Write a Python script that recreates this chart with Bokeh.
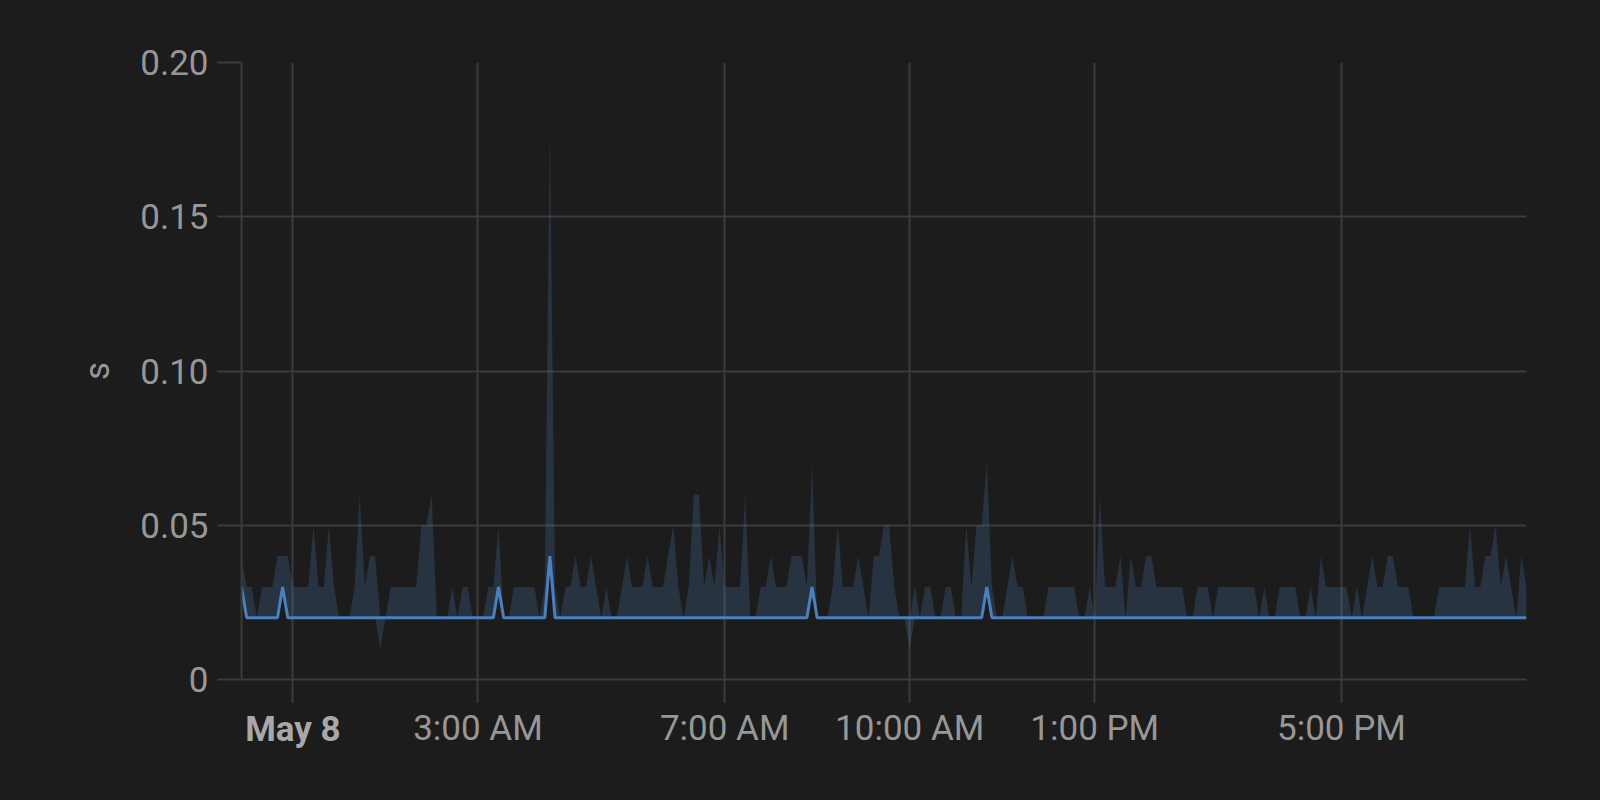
import pandas as pd
from bokeh.plotting import figure
from bokeh.models import FixedTicker, Label, Range1d, ColumnDataSource
from bokeh.embed import file_html
from bokeh.resources import INLINE

# ---------------- data ----------------
start = "2023-05-07 23:10"
end = "2023-05-08 20:00"
step = "5min"

# upper edge of the band (max), seconds
s_max = [
    0.04, 0.03, 0.03, 0.02, 0.03, 0.03, 0.03, 0.04, 0.04, 0.04,
    0.03, 0.03, 0.03, 0.03, 0.05, 0.03, 0.03, 0.05, 0.03, 0.02,
    0.02, 0.02, 0.03, 0.06, 0.03, 0.04, 0.04, 0.02, 0.02, 0.03,
    0.03, 0.03, 0.03, 0.03, 0.03, 0.05, 0.05, 0.06, 0.02, 0.02,
    0.02, 0.03, 0.02, 0.03, 0.03, 0.02, 0.02, 0.02, 0.03, 0.03,
    0.05, 0.02, 0.02, 0.03, 0.03, 0.03, 0.03, 0.03, 0.02, 0.03,
    0.18, 0.03, 0.02, 0.03, 0.03, 0.04, 0.03, 0.03, 0.04, 0.03,
    0.02, 0.03, 0.02, 0.02, 0.03, 0.04, 0.03, 0.03, 0.03, 0.04,
    0.03, 0.03, 0.03, 0.04, 0.05, 0.03, 0.02, 0.03, 0.06, 0.06,
    0.03, 0.04, 0.03, 0.05, 0.03, 0.03, 0.03, 0.03, 0.06, 0.02,
    0.02, 0.03, 0.03, 0.04, 0.03, 0.03, 0.03, 0.04, 0.04, 0.04,
    0.03, 0.07, 0.02, 0.02, 0.02, 0.03, 0.05, 0.03, 0.03, 0.03,
    0.04, 0.03, 0.02, 0.04, 0.04, 0.05, 0.05, 0.03, 0.02, 0.02,
    0.02, 0.03, 0.02, 0.03, 0.03, 0.02, 0.02, 0.03, 0.03, 0.02,
    0.02, 0.05, 0.03, 0.05, 0.05, 0.07, 0.03, 0.02, 0.02, 0.03,
    0.04, 0.03, 0.03, 0.02, 0.02, 0.02, 0.02, 0.03, 0.03, 0.03,
    0.03, 0.03, 0.03, 0.02, 0.02, 0.03, 0.02, 0.06, 0.03, 0.03,
    0.03, 0.04, 0.02, 0.04, 0.03, 0.03, 0.04, 0.04, 0.03, 0.03,
    0.03, 0.03, 0.03, 0.03, 0.02, 0.02, 0.03, 0.03, 0.03, 0.02,
    0.03, 0.03, 0.03, 0.03, 0.03, 0.03, 0.03, 0.03, 0.02, 0.03,
    0.02, 0.02, 0.03, 0.03, 0.03, 0.03, 0.02, 0.02, 0.03, 0.02,
    0.04, 0.03, 0.03, 0.03, 0.03, 0.03, 0.02, 0.03, 0.02, 0.03,
    0.04, 0.03, 0.03, 0.04, 0.04, 0.03, 0.03, 0.03, 0.02, 0.02,
    0.02, 0.02, 0.02, 0.03, 0.03, 0.03, 0.03, 0.03, 0.03, 0.05,
    0.03, 0.03, 0.04, 0.04, 0.05, 0.03, 0.04, 0.03, 0.02, 0.04,
    0.03,
]

# main line (seconds)
s_line = [
    0.03, 0.02, 0.02, 0.02, 0.02, 0.02, 0.02, 0.02, 0.03, 0.02,
    0.02, 0.02, 0.02, 0.02, 0.02, 0.02, 0.02, 0.02, 0.02, 0.02,
    0.02, 0.02, 0.02, 0.02, 0.02, 0.02, 0.02, 0.02, 0.02, 0.02,
    0.02, 0.02, 0.02, 0.02, 0.02, 0.02, 0.02, 0.02, 0.02, 0.02,
    0.02, 0.02, 0.02, 0.02, 0.02, 0.02, 0.02, 0.02, 0.02, 0.02,
    0.03, 0.02, 0.02, 0.02, 0.02, 0.02, 0.02, 0.02, 0.02, 0.02,
    0.04, 0.02, 0.02, 0.02, 0.02, 0.02, 0.02, 0.02, 0.02, 0.02,
    0.02, 0.02, 0.02, 0.02, 0.02, 0.02, 0.02, 0.02, 0.02, 0.02,
    0.02, 0.02, 0.02, 0.02, 0.02, 0.02, 0.02, 0.02, 0.02, 0.02,
    0.02, 0.02, 0.02, 0.02, 0.02, 0.02, 0.02, 0.02, 0.02, 0.02,
    0.02, 0.02, 0.02, 0.02, 0.02, 0.02, 0.02, 0.02, 0.02, 0.02,
    0.02, 0.03, 0.02, 0.02, 0.02, 0.02, 0.02, 0.02, 0.02, 0.02,
    0.02, 0.02, 0.02, 0.02, 0.02, 0.02, 0.02, 0.02, 0.02, 0.02,
    0.02, 0.02, 0.02, 0.02, 0.02, 0.02, 0.02, 0.02, 0.02, 0.02,
    0.02, 0.02, 0.02, 0.02, 0.02, 0.03, 0.02, 0.02, 0.02, 0.02,
    0.02, 0.02, 0.02, 0.02, 0.02, 0.02, 0.02, 0.02, 0.02, 0.02,
    0.02, 0.02, 0.02, 0.02, 0.02, 0.02, 0.02, 0.02, 0.02, 0.02,
    0.02, 0.02, 0.02, 0.02, 0.02, 0.02, 0.02, 0.02, 0.02, 0.02,
    0.02, 0.02, 0.02, 0.02, 0.02, 0.02, 0.02, 0.02, 0.02, 0.02,
    0.02, 0.02, 0.02, 0.02, 0.02, 0.02, 0.02, 0.02, 0.02, 0.02,
    0.02, 0.02, 0.02, 0.02, 0.02, 0.02, 0.02, 0.02, 0.02, 0.02,
    0.02, 0.02, 0.02, 0.02, 0.02, 0.02, 0.02, 0.02, 0.02, 0.02,
    0.02, 0.02, 0.02, 0.02, 0.02, 0.02, 0.02, 0.02, 0.02, 0.02,
    0.02, 0.02, 0.02, 0.02, 0.02, 0.02, 0.02, 0.02, 0.02, 0.02,
    0.02, 0.02, 0.02, 0.02, 0.02, 0.02, 0.02, 0.02, 0.02, 0.02,
    0.02,
]

# lower edge of the band (min), seconds
s_min = list(s_line)
s_min[27] = 0.01
s_min[130] = 0.01

x_tick_times = ["2023-05-08 00:00", "2023-05-08 03:00", "2023-05-08 07:00",
                "2023-05-08 10:00", "2023-05-08 13:00", "2023-05-08 17:00"]
x_tick_labels = ["May 8", "3:00 AM", "7:00 AM", "10:00 AM", "1:00 PM", "5:00 PM"]
y_ticks = [0.0, 0.05, 0.10, 0.15, 0.20]
y_tick_labels = ["0", "0.05", "0.10", "0.15", "0.20"]
y_unit = "s"

# ---------------- styling ----------------
BG = "#1c1c1c"
GRID = "#3b3b3b"
TEXT = "#979797"
TEXT_BOLD = "#a8a8a8"
LINE = "#4a80bd"
FILL = "#5089ca"
FONT = "Roboto"
FS = "35px"

times = pd.date_range(start, periods=len(s_max), freq=step)
src = ColumnDataSource(dict(t=times, lo=s_min, hi=s_max, mid=s_line))

tick_ms = [pd.Timestamp(t).value / 1e6 for t in x_tick_times]

p = figure(width=1600, height=800, x_axis_type="datetime",
           x_range=Range1d(pd.Timestamp(start), pd.Timestamp(end)),
           y_range=Range1d(0, 0.2),
           output_backend="svg", toolbar_location=None,
           background_fill_color=BG, border_fill_color=BG,
           min_border_left=241, min_border_right=74,
           min_border_top=62, min_border_bottom=121)
p.outline_line_color = None

p.varea(x="t", y1="lo", y2="hi", source=src, fill_color=FILL, fill_alpha=0.21)
p.line(x="t", y="mid", source=src, line_color=LINE, line_width=3)

# x axis
p.xaxis.ticker = FixedTicker(ticks=tick_ms)
p.xgrid.ticker = FixedTicker(ticks=tick_ms)
overrides = {ms: lab for ms, lab in zip(tick_ms, x_tick_labels)}
overrides[tick_ms[0]] = ""
p.xaxis.major_label_overrides = overrides
p.xaxis.axis_line_color = GRID
p.xaxis.axis_line_width = 2
p.xaxis.major_tick_line_color = GRID
p.xaxis.major_tick_line_width = 2
p.xaxis.major_tick_out = 23
p.xaxis.major_tick_in = 0
p.xaxis.minor_tick_line_color = None
p.xaxis.major_label_text_font = FONT
p.xaxis.major_label_text_font_size = FS
p.xaxis.major_label_text_color = TEXT
p.xaxis.major_label_standoff = 5

# y axis
p.yaxis.ticker = FixedTicker(ticks=y_ticks)
p.ygrid.ticker = FixedTicker(ticks=y_ticks)
p.yaxis.major_label_overrides = {v: lab for v, lab in zip(y_ticks, y_tick_labels)}
p.yaxis.axis_line_color = GRID
p.yaxis.axis_line_width = 2
p.yaxis.major_tick_line_color = GRID
p.yaxis.major_tick_line_width = 2
p.yaxis.major_tick_out = 24
p.yaxis.major_tick_in = 0
p.yaxis.minor_tick_line_color = None
p.yaxis.major_label_text_font = FONT
p.yaxis.major_label_text_font_size = FS
p.yaxis.major_label_text_color = TEXT
p.yaxis.major_label_standoff = 9
p.yaxis.axis_label = y_unit
p.yaxis.axis_label_text_font = FONT
p.yaxis.axis_label_text_font_size = FS
p.yaxis.axis_label_text_font_style = "normal"
p.yaxis.axis_label_text_color = TEXT
p.yaxis.axis_label_standoff = 19

for g in (p.xgrid, p.ygrid):
    g.grid_line_color = GRID
    g.grid_line_width = 2

# bold date label for the midnight tick (in a side panel so it is not clipped)
p.add_layout(Label(x=tick_ms[0], y=84, x_units="data", y_units="screen",
                   text=x_tick_labels[0], text_align="center", text_baseline="top",
                   text_font=FONT, text_font_size=FS, text_font_style="bold",
                   text_color=TEXT_BOLD), "below")

html = file_html(p, INLINE)
html = html.replace("<head>", "<head><style>html,body{background-color:%s;}</style>" % BG, 1)
open("out.html", "w").write(html)
